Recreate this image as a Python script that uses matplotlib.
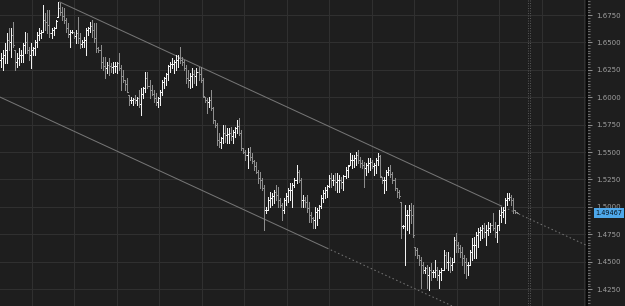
import numpy as np
import matplotlib
matplotlib.use("Agg")
import matplotlib.pyplot as plt
import matplotlib.transforms as mtransforms
from matplotlib.collections import LineCollection
from matplotlib.ticker import MultipleLocator, FormatStrFormatter

# daily OHLC bars (open = previous close)
highs = [
    1.6404, 1.6431, 1.6495, 1.6586, 1.6632, 1.6632, 1.6686, 1.6431, 1.6404, 1.6449,
    1.6431, 1.6495, 1.6595, 1.6586, 1.6458, 1.6495, 1.6458, 1.6522, 1.6595, 1.6632,
    1.6613, 1.6841, 1.6769, 1.6796, 1.6796, 1.6632, 1.6641, 1.6705, 1.6869, 1.6860,
    1.6823, 1.6814, 1.6723, 1.6677, 1.6613, 1.6613, 1.6595, 1.6613, 1.6732, 1.6586,
    1.6522, 1.6550, 1.6632, 1.6641, 1.6686, 1.6705, 1.6677, 1.6677, 1.6458, 1.6477,
    1.6367, 1.6367, 1.6322, 1.6358, 1.6313, 1.6322, 1.6322, 1.6322, 1.6404, 1.6294,
    1.6249, 1.6157, 1.6176, 1.6021, 1.6002, 1.5993, 1.6021, 1.6002, 1.6066, 1.6084,
    1.6094, 1.6230, 1.6230, 1.6157, 1.6112, 1.6066, 1.6039, 1.6002, 1.6066, 1.6157,
    1.6185, 1.6221, 1.6294, 1.6322, 1.6358, 1.6340, 1.6385, 1.6385, 1.6458, 1.6367,
    1.6340, 1.6294, 1.6249, 1.6221, 1.6267, 1.6249, 1.6267, 1.6276, 1.6276, 1.6176,
    1.6002, 1.5993, 1.6002, 1.6066, 1.5911, 1.5793, 1.5765, 1.5674, 1.5638, 1.5747,
    1.5747, 1.5720, 1.5720, 1.5729, 1.5701, 1.5729, 1.5793, 1.5811, 1.5701, 1.5537,
    1.5519, 1.5537, 1.5546, 1.5492, 1.5428, 1.5410, 1.5337, 1.5318, 1.5264, 1.5200,
    1.4999, 1.5090, 1.5136, 1.5127, 1.5154, 1.5200, 1.5182, 1.5081, 1.5036, 1.5081,
    1.5127, 1.5172, 1.5218, 1.5218, 1.5264, 1.5382, 1.5337, 1.5264, 1.5109, 1.5090,
    1.5109, 1.5045, 1.4954, 1.4908, 1.4999, 1.4990, 1.5017, 1.5109, 1.5154, 1.5182,
    1.5200, 1.5291, 1.5309, 1.5291, 1.5309, 1.5309, 1.5291, 1.5273, 1.5291, 1.5364,
    1.5382, 1.5492, 1.5473, 1.5473, 1.5501, 1.5519, 1.5455, 1.5428, 1.5410, 1.5400,
    1.5446, 1.5446, 1.5428, 1.5400, 1.5446, 1.5492, 1.5473, 1.5273, 1.5273, 1.5337,
    1.5364, 1.5382, 1.5318, 1.5264, 1.5172, 1.5154, 1.5045, 1.4835, 1.5017, 1.4972,
    1.5017, 1.5036, 1.5017, 1.4634, 1.4625, 1.4561, 1.4543, 1.4498, 1.4452, 1.4470,
    1.4452, 1.4488, 1.4425, 1.4516, 1.4452, 1.4425, 1.4443, 1.4607, 1.4589, 1.4589,
    1.4543, 1.4534, 1.4726, 1.4762, 1.4680, 1.4653, 1.4634, 1.4561, 1.4534, 1.4498,
    1.4607, 1.4716, 1.4726, 1.4771, 1.4808, 1.4817, 1.4835, 1.4853, 1.4835, 1.4862,
    1.4853, 1.4944, 1.4862, 1.4835, 1.4972, 1.4999, 1.4999, 1.5081, 1.5127, 1.5127,
    1.5109, 1.5081, 1.4972, 1.4954,
]
lows = [
    1.6276, 1.6249, 1.6313, 1.6313, 1.6431, 1.6367, 1.6458, 1.6249, 1.6276, 1.6294,
    1.6322, 1.6322, 1.6404, 1.6404, 1.6340, 1.6267, 1.6385, 1.6385, 1.6458, 1.6522,
    1.6541, 1.6595, 1.6613, 1.6586, 1.6550, 1.6541, 1.6568, 1.6632, 1.6732, 1.6750,
    1.6705, 1.6677, 1.6595, 1.6550, 1.6458, 1.6586, 1.6541, 1.6495, 1.6495, 1.6449,
    1.6458, 1.6458, 1.6385, 1.6568, 1.6595, 1.6550, 1.6504, 1.6413, 1.6413, 1.6267,
    1.6249, 1.6176, 1.6221, 1.6203, 1.6230, 1.6221, 1.6230, 1.6221, 1.6249, 1.6066,
    1.6139, 1.6066, 1.6048, 1.5929, 1.5948, 1.5929, 1.5948, 1.5929, 1.5911, 1.5838,
    1.5993, 1.6048, 1.6084, 1.5993, 1.6021, 1.5957, 1.5929, 1.5911, 1.5929, 1.6021,
    1.6084, 1.6112, 1.6157, 1.6230, 1.6267, 1.6221, 1.6249, 1.6276, 1.6313, 1.6294,
    1.6249, 1.6130, 1.6094, 1.6084, 1.6094, 1.6130, 1.6112, 1.6157, 1.6139, 1.6002,
    1.5957, 1.5857, 1.5911, 1.5884, 1.5765, 1.5729, 1.5565, 1.5546, 1.5537, 1.5583,
    1.5592, 1.5583, 1.5583, 1.5610, 1.5583, 1.5638, 1.5674, 1.5656, 1.5519, 1.5492,
    1.5428, 1.5355, 1.5428, 1.5400, 1.5337, 1.5309, 1.5218, 1.5172, 1.5154, 1.4789,
    1.4944, 1.4972, 1.4999, 1.5017, 1.5036, 1.5063, 1.4999, 1.4999, 1.4881, 1.4944,
    1.5017, 1.5045, 1.5063, 1.4999, 1.5182, 1.5218, 1.5227, 1.4999, 1.4999, 1.4999,
    1.4954, 1.4862, 1.4862, 1.4808, 1.4808, 1.4835, 1.4899, 1.4990, 1.5045, 1.5081,
    1.5090, 1.5182, 1.5182, 1.5200, 1.5154, 1.5136, 1.5136, 1.5172, 1.5154, 1.5264,
    1.5273, 1.5382, 1.5355, 1.5364, 1.5382, 1.5400, 1.5364, 1.5355, 1.5182, 1.5291,
    1.5318, 1.5337, 1.5355, 1.5291, 1.5309, 1.5382, 1.5273, 1.5218, 1.5127, 1.5154,
    1.5291, 1.5273, 1.5218, 1.5154, 1.5090, 1.5081, 1.4716, 1.4808, 1.4470, 1.4789,
    1.4762, 1.4853, 1.4726, 1.4561, 1.4534, 1.4470, 1.4260, 1.4397, 1.4397, 1.4260,
    1.4242, 1.4333, 1.4361, 1.4361, 1.4333, 1.4260, 1.4333, 1.4425, 1.4443, 1.4425,
    1.4407, 1.4425, 1.4498, 1.4589, 1.4589, 1.4543, 1.4470, 1.4397, 1.4352, 1.4379,
    1.4470, 1.4516, 1.4534, 1.4534, 1.4634, 1.4698, 1.4716, 1.4726, 1.4653, 1.4744,
    1.4771, 1.4789, 1.4726, 1.4680, 1.4789, 1.4862, 1.4908, 1.4853, 1.5017, 1.5063,
    1.5017, 1.4944, 1.4944, 1.4944,
]
closes = [
    1.6358, 1.6385, 1.6431, 1.6522, 1.6504, 1.6568, 1.6477, 1.6322, 1.6358, 1.6385,
    1.6385, 1.6477, 1.6504, 1.6431, 1.6385, 1.6431, 1.6449, 1.6504, 1.6568, 1.6586,
    1.6595, 1.6705, 1.6686, 1.6659, 1.6586, 1.6613, 1.6632, 1.6696, 1.6814, 1.6778,
    1.6741, 1.6705, 1.6632, 1.6577, 1.6595, 1.6595, 1.6559, 1.6586, 1.6541, 1.6486,
    1.6504, 1.6522, 1.6613, 1.6632, 1.6650, 1.6613, 1.6541, 1.6449, 1.6431, 1.6322,
    1.6285, 1.6267, 1.6294, 1.6285, 1.6276, 1.6285, 1.6285, 1.6313, 1.6267, 1.6194,
    1.6157, 1.6121, 1.6048, 1.5975, 1.5975, 1.5984, 1.5975, 1.5993, 1.5939, 1.6030,
    1.6084, 1.6176, 1.6103, 1.6066, 1.6030, 1.5993, 1.5957, 1.5993, 1.6048, 1.6139,
    1.6176, 1.6212, 1.6285, 1.6304, 1.6304, 1.6322, 1.6340, 1.6358, 1.6340, 1.6322,
    1.6267, 1.6176, 1.6157, 1.6194, 1.6212, 1.6194, 1.6230, 1.6212, 1.6157, 1.6011,
    1.5975, 1.5957, 1.5975, 1.5902, 1.5793, 1.5747, 1.5610, 1.5592, 1.5629, 1.5674,
    1.5656, 1.5665, 1.5674, 1.5647, 1.5683, 1.5720, 1.5738, 1.5674, 1.5537, 1.5501,
    1.5473, 1.5501, 1.5455, 1.5419, 1.5373, 1.5318, 1.5264, 1.5245, 1.5172, 1.4972,
    1.4972, 1.5063, 1.5081, 1.5100, 1.5136, 1.5109, 1.5063, 1.5017, 1.4972, 1.5063,
    1.5100, 1.5154, 1.5154, 1.5200, 1.5245, 1.5318, 1.5245, 1.5063, 1.5063, 1.5045,
    1.4990, 1.4926, 1.4899, 1.4881, 1.4954, 1.4972, 1.5008, 1.5081, 1.5127, 1.5154,
    1.5191, 1.5264, 1.5245, 1.5245, 1.5227, 1.5245, 1.5245, 1.5227, 1.5282, 1.5337,
    1.5373, 1.5428, 1.5428, 1.5446, 1.5473, 1.5428, 1.5400, 1.5382, 1.5355, 1.5382,
    1.5400, 1.5410, 1.5373, 1.5382, 1.5428, 1.5464, 1.5282, 1.5245, 1.5245, 1.5318,
    1.5337, 1.5300, 1.5245, 1.5172, 1.5136, 1.5100, 1.4826, 1.4826, 1.4926, 1.4926,
    1.4972, 1.4926, 1.4744, 1.4607, 1.4561, 1.4516, 1.4470, 1.4425, 1.4443, 1.4379,
    1.4425, 1.4407, 1.4407, 1.4425, 1.4379, 1.4407, 1.4425, 1.4561, 1.4498, 1.4498,
    1.4470, 1.4498, 1.4698, 1.4653, 1.4625, 1.4589, 1.4534, 1.4498, 1.4470, 1.4470,
    1.4589, 1.4653, 1.4653, 1.4744, 1.4771, 1.4789, 1.4808, 1.4771, 1.4789, 1.4808,
    1.4835, 1.4808, 1.4771, 1.4835, 1.4926, 1.4954, 1.4972, 1.5063, 1.5081, 1.5090,
    1.5063, 1.4972, 1.4954, 1.49467,
]
first_open = 1.6340
last_price = 1.49467

# descending channel: two anchors on the upper line, lower line parallel
channel_x = [29, 245]
channel_upper = [1.6869, 1.5011]
channel_width = 0.1119
lower_solid_end = 160
now_bar = [258.2, 259.4]

price_min, price_max = 1.4096, 1.6887
label_step = 0.025
minor_step = 0.0025

BG = '#1e1e1e'
GRID = '#303030'
UP = '#f2f2f2'
DOWN = '#8e8e8e'
LINE = '#767676'
PX = 0.72  # one pixel in points

highs = np.array(highs)
lows = np.array(lows)
closes = np.array(closes)
n = len(closes)
assert len(highs) == n and len(lows) == n
opens = np.clip(np.concatenate([[first_open], closes[:-1]]), lows, highs)
idx = np.arange(n)

fig = plt.figure(figsize=(6.25, 3.06), dpi=100, facecolor=BG)
ax = fig.add_axes([0, 0, 587 / 625, 1])
ax.set_facecolor(BG)

bar_px = 2.0415
x_left = -0.245
x_right = x_left + 587 / bar_px
ax.set_xlim(x_left, x_right)
ax.set_ylim(price_min, price_max)

# grid
for gx in 15.4 + 20.82 * np.arange(14):
    ax.axvline(gx, color=GRID, lw=PX, zorder=0)
ax.yaxis.set_major_locator(MultipleLocator(label_step))
ax.yaxis.set_minor_locator(MultipleLocator(minor_step))
ax.grid(True, axis='y', which='major', color=GRID, lw=PX, zorder=0)
ax.set_axisbelow(True)

# OHLC bars
segs, cols = [], []
for i in idx:
    c = UP if closes[i] >= opens[i] else DOWN
    segs.append([(i, lows[i]), (i, highs[i])])
    segs.append([(i - 0.5, opens[i]), (i, opens[i])])
    segs.append([(i, closes[i]), (i + 0.5, closes[i])])
    cols += [c, c, c]
ax.add_collection(LineCollection(segs, colors=cols, linewidths=PX,
                                 antialiaseds=False, zorder=3))

# channel lines
slope = (channel_upper[1] - channel_upper[0]) / (channel_x[1] - channel_x[0])
def upper(x):
    return channel_upper[0] + slope * (np.asarray(x) - channel_x[0])

ax.plot(channel_x, upper(channel_x), color=LINE, lw=PX, zorder=2)
ax.plot([channel_x[1], x_right], upper([channel_x[1], x_right]),
        color=LINE, lw=PX, ls=(0, (1.5, 2.5)), zorder=2)
xs = [x_left, lower_solid_end]
ax.plot(xs, upper(xs) - channel_width, color=LINE, lw=PX, zorder=2)
xs = [lower_solid_end, x_right]
ax.plot(xs, upper(xs) - channel_width, color=LINE, lw=PX,
        ls=(0, (1.5, 2.5)), zorder=2)

for vx in now_bar:
    ax.axvline(vx, color='#555555', lw=PX, ls=(0, (1, 1.5)), zorder=1)

# price axis on the right
ax.yaxis.tick_right()
ax.yaxis.set_major_formatter(FormatStrFormatter('%.4f'))
ax.tick_params(axis='y', which='major', length=5 * PX, width=PX, color='#8c8c8c',
               labelcolor='#a0a0a0', labelsize=5, pad=3)
ax.tick_params(axis='y', which='minor', length=3 * PX, width=PX, color='#6a6a6a')
ax.tick_params(axis='x', which='both', bottom=False, labelbottom=False)
for side in ['top', 'left', 'bottom']:
    ax.spines[side].set_visible(False)
ax.spines['right'].set_color('#0a0a0a')
ax.spines['right'].set_linewidth(2 * PX)

trans = mtransforms.blended_transform_factory(ax.transAxes, ax.transData)
ax.text(1.0145, last_price, '%.5f' % last_price, transform=trans, fontsize=4.7,
        color='#06121c', ha='left', va='center', zorder=5,
        bbox=dict(boxstyle='square,pad=0.3', fc='#4ea8ea', ec='none'))

fig.savefig('out.png', dpi=100, facecolor=BG)
